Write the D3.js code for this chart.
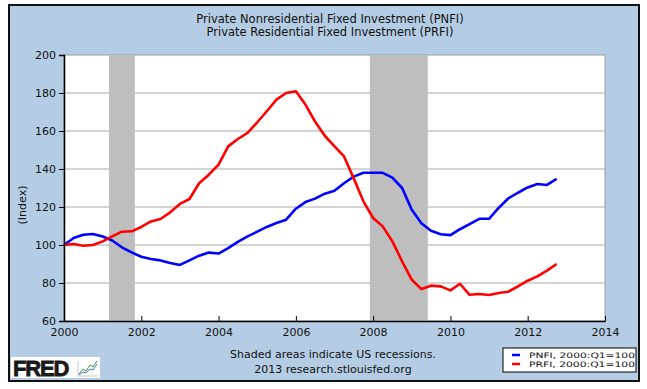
<!DOCTYPE html>
<html>
<head>
<meta charset="utf-8">
<script src="https://cdnjs.cloudflare.com/ajax/libs/d3/7.8.5/d3.min.js"></script>
<style>
    body { margin: 0; background: #fff; }
    svg text { font-family: "DejaVu Sans", Verdana, sans-serif; fill: #111; }
</style>
</head>
<body>
<div id="chart"></div>
<script>
// quarterly observations, 2000:Q1 .. 2012:Q4
const quarters = [
    "2000-01", "2000-04", "2000-07", "2000-10",
    "2001-01", "2001-04", "2001-07", "2001-10",
    "2002-01", "2002-04", "2002-07", "2002-10",
    "2003-01", "2003-04", "2003-07", "2003-10",
    "2004-01", "2004-04", "2004-07", "2004-10",
    "2005-01", "2005-04", "2005-07", "2005-10",
    "2006-01", "2006-04", "2006-07", "2006-10",
    "2007-01", "2007-04", "2007-07", "2007-10",
    "2008-01", "2008-04", "2008-07", "2008-10",
    "2009-01", "2009-04", "2009-07", "2009-10",
    "2010-01", "2010-04", "2010-07", "2010-10",
    "2011-01", "2011-04", "2011-07", "2011-10",
    "2012-01", "2012-04", "2012-07", "2012-10"
];

// PNFI, 2000:Q1=100
const pnfi = [
    100, 103.7, 105.4, 105.8,
    104.5, 102.4, 98.8, 96.1,
    93.8, 92.6, 91.9, 90.5,
    89.5, 91.9, 94.4, 96,
    95.5, 98.4, 101.6, 104.5,
    107, 109.5, 111.6, 113.3,
    119.1, 122.6, 124.4, 127,
    128.5, 132.5, 136, 138,
    138, 138, 135.5, 130,
    118.5, 111.5, 107.5, 105.7,
    105.2, 108.3, 111, 113.8,
    113.8, 119.5, 124.5, 127.5,
    130.3, 132.1, 131.6, 134.8
];

// PRFI, 2000:Q1=100
const prfi = [
    100, 100.5, 99.6, 100,
    101.9, 104.5, 107, 107.2,
    109.5, 112.4, 113.7, 117.2,
    121.6, 124.2, 132.5, 137,
    142.3, 151.9, 155.8, 159,
    164.6, 170.4, 176.5, 180,
    180.9, 173.9, 165, 157.5,
    151.9, 146.6, 135.2, 123,
    114.2, 109.8, 101.9, 91.4,
    81.7, 76.8, 78.6, 78.2,
    76.1, 79.6, 73.8, 74.2,
    73.7, 74.7, 75.4, 78.2,
    81.2, 83.5, 86.5, 90
];

// NBER recessions (start month, end month)
const recessions = [["2001-03", "2001-11"], ["2007-12", "2009-06"]];

const yTicks = [60, 80, 100, 120, 140, 160, 180, 200];
const xTickYears = [2000, 2002, 2004, 2006, 2008, 2010, 2012, 2014];

const titleLines = ["Private Nonresidential Fixed Investment (PNFI)",
    "Private Residential Fixed Investment (PRFI)"];
const noteLines = ["Shaded areas indicate US recessions.", "2013 research.stlouisfed.org"];
const legendItems = [
    {label: "PNFI, 2000:Q1=100", color: "#0000ff", values: pnfi},
    {label: "PRFI, 2000:Q1=100", color: "#ff0000", values: prfi}
];

(function (d3) {

    var W = 647, H = 389;
    var margin = {top: 55, right: 42, bottom: 68, left: 64},
        width = W - margin.left - margin.right,
        height = H - margin.top - margin.bottom;

    var parse = d3.timeParse("%Y-%m");

    var svg = d3.select("#chart").append("svg")
        .attr("width", W)
        .attr("height", H);

    // light blue panel with dark frame
    svg.append("rect")
        .attr("x", 9).attr("y", 5)
        .attr("width", 630).attr("height", 376)
        .style("fill", "#b4cde4")
        .style("stroke", "#111")
        .style("stroke-width", 2);

    // titles
    svg.selectAll(".title")
        .data(titleLines)
        .enter().append("text")
        .attr("class", "title")
        .attr("x", 330)
        .attr("y", (d, i) => 23 + i * 13)
        .style("text-anchor", "middle")
        .style("font-size", "11.5px")
        .text(d => d);

    var x = d3.scaleTime()
        .domain([parse("2000-01"), parse("2014-01")])
        .range([0, width]);
    var y = d3.scaleLinear()
        .domain([60, 200])
        .range([height, 0]);

    var g = svg.append("g")
        .attr("transform", "translate(" + margin.left + "," + margin.top + ")");

    g.append("rect")
        .attr("width", width)
        .attr("height", height)
        .style("fill", "#fff")
        .style("stroke", "#999")
        .style("stroke-width", 1);

    // horizontal grid
    g.selectAll(".grid")
        .data(yTicks.filter(v => v > 60 && v < 200))
        .enter().append("line")
        .attr("class", "grid")
        .attr("x1", 0).attr("x2", width)
        .attr("y1", d => y(d)).attr("y2", d => y(d))
        .style("stroke", "#aaa")
        .style("stroke-width", 1);

    // recession bars
    g.selectAll(".rec")
        .data(recessions)
        .enter().append("rect")
        .attr("class", "rec")
        .attr("x", d => x(parse(d[0])))
        .attr("width", d => x(parse(d[1])) - x(parse(d[0])))
        .attr("y", 0)
        .attr("height", height)
        .style("fill", "#bebebe");

    // series
    var line = d3.line()
        .x((d, i) => x(parse(quarters[i])))
        .y(d => y(d));

    g.selectAll(".series")
        .data(legendItems)
        .enter().append("path")
        .attr("class", "series")
        .attr("d", d => line(d.values))
        .style("fill", "none")
        .style("stroke", d => d.color)
        .style("stroke-width", 2.6)
        .style("stroke-linejoin", "round");

    // y axis
    var yAxis = g.append("g")
        .call(d3.axisLeft(y).tickValues(yTicks).tickSize(5).tickPadding(3));
    yAxis.select(".domain").style("stroke", "#000").style("stroke-width", 1.5);
    yAxis.selectAll("text").style("font-size", "11px");

    // x axis, ticks pointing inward
    var xAxis = g.append("g")
        .attr("transform", "translate(0," + height + ")")
        .call(d3.axisBottom(x)
            .tickValues(xTickYears.map(v => parse(v + "-01")))
            .tickFormat(d3.timeFormat("%Y"))
            .tickSizeInner(-5)
            .tickSizeOuter(0)
            .tickPadding(7));
    xAxis.select(".domain").style("stroke", "#000").style("stroke-width", 1.5);
    xAxis.selectAll("text").style("font-size", "11px").attr("dy", "0.71em");

    // y axis label
    svg.append("text")
        .attr("transform", "translate(26,205) rotate(-90)")
        .style("text-anchor", "middle")
        .style("font-size", "11px")
        .text("(Index)");

    // footnote
    svg.selectAll(".note")
        .data(noteLines)
        .enter().append("text")
        .attr("class", "note")
        .attr("x", 333)
        .attr("y", (d, i) => 358 + i * 15)
        .style("text-anchor", "middle")
        .style("font-size", "11px")
        .text(d => d);

    // legend
    var legend = svg.append("g")
        .attr("transform", "translate(503,348)");
    legend.append("rect")
        .attr("width", 133).attr("height", 24)
        .style("fill", "#fff")
        .style("stroke", "#000");
    var item = legend.selectAll(".item")
        .data(legendItems)
        .enter().append("g")
        .attr("class", "item")
        .attr("transform", (d, i) => "translate(0," + (7 + i * 9) + ")");
    item.append("line")
        .attr("x1", 9).attr("x2", 17)
        .style("stroke", d => d.color)
        .style("stroke-width", 2.5);
    item.append("text")
        .attr("x", 26)
        .attr("dy", "0.35em")
        .attr("textLength", 106)
        .attr("lengthAdjust", "spacingAndGlyphs")
        .style("font-size", "7.5px")
        .text(d => d.label);

    // FRED logo
    var logo = svg.append("g")
        .attr("transform", "translate(11,357)");
    logo.append("rect")
        .attr("width", 89).attr("height", 21)
        .style("fill", "#fff");
    logo.append("text")
        .attr("x", 2).attr("y", 18.5)
        .style("font-family", "'Liberation Sans', Arial, sans-serif")
        .style("font-weight", "bold")
        .style("font-size", "22px")
        .style("letter-spacing", "-1.2px")
        .style("fill", "#1a1a1a")
        .style("stroke", "#1a1a1a")
        .style("stroke-width", 0.8)
        .text("FRED");
    logo.append("path")
        .attr("d", "M68,17 L72,12 L75,14 L79,8 L82,10 L86,4")
        .style("fill", "none").style("stroke", "#3a9a3a").style("stroke-width", 1);
    logo.append("path")
        .attr("d", "M68,18 L72,15 L75,16 L79,12 L82,13 L86,7")
        .style("fill", "none").style("stroke", "#4a7ad0").style("stroke-width", 1);
    logo.append("path")
        .attr("d", "M67,4 L67,19 L87,19")
        .style("fill", "none").style("stroke", "#bbb").style("stroke-width", 0.8);

})(d3);
</script>
</body>
</html>
